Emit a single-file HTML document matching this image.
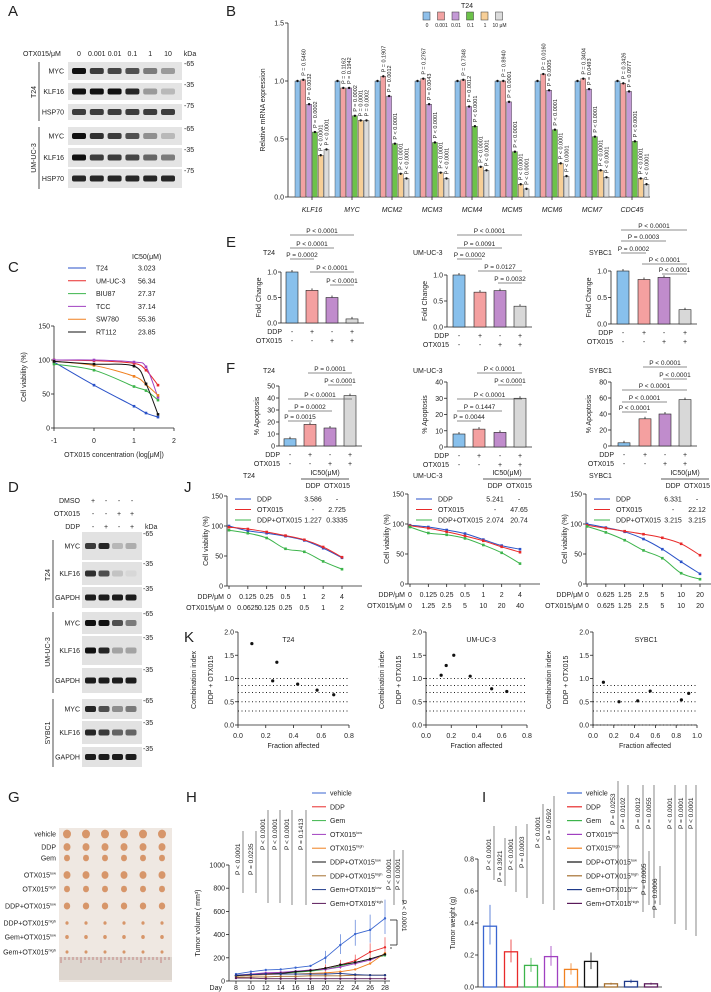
<!DOCTYPE html>
<html><head><meta charset="utf-8"><style>
html,body{margin:0;padding:0;background:#fff;}
svg{display:block;font-family:"Liberation Sans",sans-serif;}
text{fill:#222;}
</style></head><body>
<svg id="fig" width="711" height="992" viewBox="0 0 711 992" xmlns="http://www.w3.org/2000/svg"></svg>
<script>
// ---------- data ----------
const bGenes=["KLF16","MYC","MCM2","MCM3","MCM4","MCM5","MCM6","MCM7","CDC45"];
const bDoses=["0","0.001","0.01","0.1","1","10 μM"];
const bVals=[[1,1.01,0.80,0.56,0.36,0.41],[1,0.94,0.94,0.70,0.66,0.66],[1,1.04,0.87,0.46,0.20,0.16],[1,1.02,0.80,0.47,0.21,0.16],[1,1.01,0.78,0.61,0.26,0.23],[1,1.00,0.82,0.39,0.11,0.07],[1,1.06,0.92,0.58,0.29,0.18],[1,1.02,0.93,0.52,0.23,0.17],[1,0.98,0.91,0.48,0.16,0.11]];
const bP=[["0.5460","0.0032","0.0002","< 0.0001","< 0.0001"],["0.1162","0.1942","0.0002","0.0001","0.0002"],["0.1907","0.0012","< 0.0001","< 0.0001","< 0.0001"],["0.2767","0.0043","< 0.0001","< 0.0001","< 0.0001"],["0.7348","0.0012","< 0.0001","< 0.0001","< 0.0001"],["0.8940","< 0.0001","< 0.0001","< 0.0001","< 0.0001"],["0.0160","0.0005","< 0.0001","< 0.0001","< 0.0001"],["0.3404","0.0493","< 0.0001","< 0.0001","< 0.0001"],["0.3426","0.0977","< 0.0001","< 0.0001","< 0.0001"]];
const cLines=["T24","UM-UC-3","BIU87","TCC","SW780","RT112"];
const cIC50=["3.023","56.34","27.37","37.14","55.36","23.85"];
const cX=[-1,0,1,1.3,1.6];
const cT24=[97,63,32,22,16],cUM=[100,99,95,85,63],cBIU=[94,85,61,55,41],cTCC=[100,100,97,90,45],cSW=[98,92,76,64,48],cRT=[98,94,91,65,20];
const eT24=[1,0.64,0.5,0.08],eUM=[1,0.67,0.7,0.4],eSY=[1,0.84,0.88,0.27];
const fT24=[6,18,15,42],fUM=[8,11,9,30],fSY=[4,34,40,58];
const jT24DDPx=["0","0.125","0.25","0.5","1","2","4"],jT24OTXx=["0","0.0625","0.125","0.25","0.5","1","2"];
const jUMDDPx=["0","0.125","0.25","0.5","1","2","4"],jUMOTXx=["0","1.25","2.5","5","10","20","40"];
const jSYDDPx=["0","0.625","1.25","2.5","5","10","20"],jSYOTXx=["0","0.625","1.25","2.5","5","10","20"];
const jT24DDP=[100,92,88,83,76,63,47],jT24OTX=[98,95,90,84,77,65,48],jT24C=[93,88,80,62,57,41,28];
const jUMDDP=[98,95,90,84,74,64,58],jUMOTX=[97,93,87,80,72,62,53],jUMC=[95,85,82,76,65,52,34];
const jSYDDP=[100,94,87,75,58,37,17],jSYOTX=[98,93,88,83,77,67,48],jSYC=[96,86,73,56,43,18,8];
const kT24fa=[0.10,0.25,0.28,0.43,0.57,0.69],kT24ci=[1.75,0.95,1.35,0.88,0.75,0.65];
const kUMfa=[0.12,0.16,0.22,0.35,0.52,0.64],kUMci=[1.07,1.28,1.5,1.05,0.78,0.72];
const kSYfa=[0.10,0.25,0.43,0.55,0.85,0.92],kSYci=[0.92,0.5,0.52,0.73,0.54,0.68];
const hDays=[8,10,12,14,16,18,20,22,24,26,28];
const hGroups=["vehicle","DDP","Gem","OTX015|low","OTX015|high","DDP+OTX015|low","DDP+OTX015|high","Gem+OTX015|low","Gem+OTX015|high"];
const hVeh=[60,80,95,100,115,130,200,310,405,440,540];
const hDDP=[45,55,65,70,80,90,110,140,175,250,290];
const hGem=[40,50,60,65,75,85,100,130,160,190,220];
const hOL=[50,60,70,75,85,95,100,120,150,180,230];
const hOH=[40,50,55,60,60,65,70,80,100,150,240];
const hDOL=[45,55,60,65,80,90,110,140,160,190,230];
const hDOH=[30,35,35,40,40,45,45,45,50,50,50];
const hGOL=[50,55,60,60,60,60,60,65,55,50,50];
const hGOH=[25,25,20,20,20,20,20,20,20,20,20];
const iWeights=[0.38,0.22,0.135,0.19,0.11,0.16,0.02,0.035,0.02];
const iP=["< 0.0001","= 0.3921","< 0.0001","= 0.0003","< 0.0001","= 0.0592","= 0.0253","= 0.0102","= 0.0012","= 0.0055","< 0.0001","= 0.0001","< 0.0001","= 0.0005","= 0.0006"];
const hP=["< 0.0001","= 0.0235","< 0.0001","< 0.0001","< 0.0001","= 0.1413","< 0.0001","< 0.0001"];

// ---------- helpers ----------
const S=document.getElementById('fig');const NS="http://www.w3.org/2000/svg";
function el(t,a,p){const e=document.createElementNS(NS,t);for(const k in a)e.setAttribute(k,a[k]);(p||S).appendChild(e);return e;}
function tx(x,y,s,o){o=o||{};const e=el('text',{x:x,y:y,'font-size':o.fs||7,'text-anchor':o.a||'start'});if(o.rot)e.setAttribute('transform','rotate('+o.rot+' '+x+' '+y+')');if(o.it)e.setAttribute('font-style','italic');if(o.fw)e.setAttribute('font-weight',o.fw);e.textContent=s;return e;}
function ln(x1,y1,x2,y2,c,w,d){const e=el('line',{x1:x1,y1:y1,x2:x2,y2:y2,stroke:c||'#222','stroke-width':w||0.8});if(d)e.setAttribute('stroke-dasharray',d);return e;}
function lin(d0,d1,r0,r1){return v=>r0+(v-d0)/(d1-d0)*(r1-r0);}
function panelLabel(x,y,s){tx(x,y,s,{fs:15,n:'panel-label-'+s.toLowerCase()});}
function yAxis(x,y,ticks,fmt,yTop,yBot){ln(x,yTop,x,yBot);ticks.forEach(t=>{ln(x-3,y(t),x,y(t));tx(x-4,y(t)+2.5,fmt?fmt(t):String(t),{a:'end',n:'y-tick-label'});});}
function smooth(pts){let d='M'+pts[0][0]+','+pts[0][1];for(let i=0;i<pts.length-1;i++){const p0=pts[i-1]||pts[i],p1=pts[i],p2=pts[i+1],p3=pts[i+2]||p2;d+=' C'+(p1[0]+(p2[0]-p0[0])/6)+','+(p1[1]+(p2[1]-p0[1])/6)+' '+(p2[0]-(p3[0]-p1[0])/6)+','+(p2[1]-(p3[1]-p1[1])/6)+' '+p2[0]+','+p2[1];}return d;}

// ---------- A: blot ----------
panelLabel(8,16,'A');
const aLanes=["0","0.001","0.01","0.1","1","10"];
const aInt=[[1,.8,.75,.7,.5,.35],[1,1,1,.9,.35,.2],[.8,.8,.8,.8,.8,.8],[1,.85,.8,.7,.4,.2],[1,.8,.8,.75,.6,.5],[.9,.9,.9,.9,.9,.9]];
const aRows=[["MYC",62,80,"-65"],["KLF16",83,100,"-35"],["HSP70",104,120,"-75"],["MYC",127,145,"-65"],["KLF16",148,167,"-35"],["HSP70",169,188,"-75"]];
tx(23,56,"OTX015/μM",{n:'dose-header'});
aLanes.forEach((l,i)=>tx(79+i*17.8,56,l,{a:'middle',n:'lane-label'}));
tx(190,56,"kDa",{a:'middle'});
aRows.forEach((r,j)=>{const g=el('rect',{x:68,y:r[1],width:114,height:r[2]-r[1],fill:'#e4e4e4'});
 aInt[j].forEach((v,i)=>{const b=el('rect',{x:72+i*17.8,y:(r[1]+r[2])/2-3,width:14,height:6,rx:2,fill:'#111','fill-opacity':v});});
 tx(64,(r[1]+r[2])/2+2.5,r[0],{a:'end',n:'protein-label'});tx(184,r[1]+4,r[3],{n:'kda-marker'});});
ln(39,62,39,121);ln(39,127,39,189);tx(36,92,"T24",{rot:-90,a:'middle',n:'cell-line-label'});tx(36,158,"UM-UC-3",{rot:-90,a:'middle',n:'cell-line-label'});

// ---------- B ----------
panelLabel(226,16,'B');
const bCols=['#8fc0ea','#f2a2a2','#c49ad6','#6cc24a','#f7cf98','#dcdcdc'];
const bY=lin(0,1.5,197,23);const bX0=294,bStep=40;
yAxis(288,bY,[0,0.5,1.0,1.5],t=>t.toFixed(1),23,197);ln(288,197,650,197);
tx(265,110,"Relative mRNA expression",{rot:-90,a:'middle',n:'y-axis-title'});
tx(467,8,"T24",{a:'middle',n:'legend-title'});
bDoses.forEach((d,i)=>{const r=el('rect',{x:423+i*14.5,y:12,width:7,height:8,fill:bCols[i],stroke:'#333','stroke-width':0.5});tx(427+i*14.5,27,d,{fs:5,a:'middle',n:'legend-entry'});});
bGenes.forEach((g,gi)=>{const c=bX0+gi*bStep+18;tx(c,212,g,{it:1,a:'middle',n:'gene-label'});ln(c,197,c,200);
 bVals[gi].forEach((v,k)=>{const x=c-17+k*5.8;const r=el('rect',{x:x,y:bY(v),width:5,height:197-bY(v),fill:bCols[k],stroke:'#333','stroke-width':0.4});
  const cc=el('circle',{cx:x+2.5,cy:bY(v),r:1.2,fill:'#111'});
  if(k>0)tx(x+4.5,bY(v)-4,"P "+(bP[gi][k-1][0]=='<'?'':'= ')+bP[gi][k-1],{fs:5.5,rot:-90,n:'p-value'});});});

// ---------- C ----------
panelLabel(8,272,'C');
const cCols=['#2a52c8','#e82a2a','#3cb44b','#a040c0','#f08020','#111'];
const cData=[cT24,cUM,cBIU,cTCC,cSW,cRT];
tx(132,259,"IC50(μM)",{n:'legend-header'});
cLines.forEach((n,i)=>{const y=268+i*12.8;ln(68,y,86,y,cCols[i],1);tx(96,y+2.5,n,{n:'legend-entry'});tx(138,y+2.5,cIC50[i],{n:'ic50-value'});});
const cXs=lin(-1,2,54,174),cYs=lin(0,150,428,326);
yAxis(54,cYs,[0,50,100,150],null,326,428);ln(54,428,174,428);
[-1,0,1,2].forEach(t=>{ln(cXs(t),428,cXs(t),431);tx(cXs(t),443,String(t),{a:'middle',n:'x-tick-label'});});
tx(114,457,"OTX015 concentration (log[μM])",{a:'middle',n:'x-axis-title'});
tx(26,377,"Cell viability (%)",{rot:-90,a:'middle',n:'y-axis-title'});
cData.forEach((d,i)=>{const pts=d.map((v,j)=>[cXs(cX[j]),cYs(v)]);const p=el('path',{d:smooth(pts),fill:'none',stroke:cCols[i],'stroke-width':1});
 pts.forEach(q=>{const c=el('rect',{x:q[0]-1.3,y:q[1]-1.3,width:2.6,height:2.6,fill:cCols[i]});});});

// ---------- E / F bar panels ----------
const efCols=['#88c0ec','#f4a0a0','#c08ccc','#d8d8d8'];
function barPanel(o){
 const y=lin(0,o.max,o.y0,o.yTop);yAxis(o.ax,y,o.ticks,o.fmt,o.yTop,o.y0);ln(o.ax,o.y0,o.bx[3]+12,o.y0);
 tx(o.title[0],o.title[1],o.tname,{n:'subplot-title'});
 tx(o.ax-20,(o.y0+o.yTop)/2,o.ylab,{rot:-90,a:'middle',n:'y-axis-title'});
 o.vals.forEach((v,i)=>{const r=el('rect',{x:o.bx[i]-6,y:y(v),width:12,height:o.y0-y(v),fill:efCols[i],stroke:'#222','stroke-width':0.6});ln(o.bx[i],y(v)-2,o.bx[i],y(v));
  ['-','+','-','+'].forEach(()=>{});tx(o.bx[i],o.y0+11,i%2?'+':'-',{a:'middle',n:'ddp-sign'});tx(o.bx[i],o.y0+20,i>1?'+':'-',{a:'middle',n:'otx-sign'});});
 tx(o.bx[0]-10,o.y0+11,"DDP",{a:'end',n:'row-label'});tx(o.bx[0]-10,o.y0+20,"OTX015",{a:'end',n:'row-label'});
 o.sig.forEach(s=>{ln(o.bx[s[0]]-2,s[2],o.bx[s[1]]+2,s[2],'#666',0.8);tx((o.bx[s[0]]+o.bx[s[1]])/2,s[2]-2,s[3],{a:'middle',fs:6.5,n:'p-value'});});}
panelLabel(226,247,'E');panelLabel(226,373,'F');
const f1=t=>t.toFixed(1);
barPanel({ax:281,y0:323,yTop:272,max:1,ticks:[0,0.5,1],fmt:f1,bx:[292,312,332,352],vals:eT24,title:[263,255],tname:'T24',ylab:'Fold Change',sig:[[0,3,235,'P < 0.0001'],[0,2,248,'P < 0.0001'],[0,1,259,'P = 0.0002'],[1,3,272,'P < 0.0001'],[2,3,285,'P < 0.0001']]});
barPanel({ax:447,y0:327,yTop:275,max:1,ticks:[0,0.5,1],fmt:f1,bx:[459,480,500,520],vals:eUM,title:[413,255],tname:'UM-UC-3',ylab:'Fold Change',sig:[[0,3,235,'P < 0.0001'],[0,2,248,'P = 0.0091'],[0,1,259,'P = 0.0002'],[1,3,271,'P = 0.0127'],[2,3,283,'P = 0.0032']]});
barPanel({ax:611,y0:324,yTop:271,max:1,ticks:[0,0.5,1],fmt:f1,bx:[623,644,664,685],vals:eSY,title:[589,255],tname:'SYBC1',ylab:'Fold Change',sig:[[0,3,230,'P < 0.0001'],[0,2,241,'P = 0.0003'],[0,1,253,'P = 0.0002'],[1,3,264,'P < 0.0001'],[2,3,274,'P < 0.0001']]});
barPanel({ax:279,y0:446,yTop:386,max:50,ticks:[0,10,20,30,40,50],bx:[290,310,330,350],vals:fT24,title:[263,373],tname:'T24',ylab:'% Apoptosis',sig:[[1,3,373,'P = 0.0001'],[2,3,385,'P < 0.0001'],[0,3,399,'P < 0.0001'],[0,2,411,'P = 0.0002'],[0,1,421,'P = 0.0015']]});
barPanel({ax:447,y0:447,yTop:382,max:40,ticks:[0,10,20,30,40],bx:[459,479,500,520],vals:fUM,title:[413,373],tname:'UM-UC-3',ylab:'% Apoptosis',sig:[[1,3,373,'P < 0.0001'],[2,3,385,'P < 0.0001'],[0,3,399,'P < 0.0001'],[0,2,411,'P = 0.1447'],[0,1,421,'P = 0.0044']]});
barPanel({ax:611,y0:446,yTop:382,max:80,ticks:[0,20,40,60,80],bx:[624,645,665,685],vals:fSY,title:[589,373],tname:'SYBC1',ylab:'% Apoptosis',sig:[[1,3,367,'P < 0.0001'],[2,3,379,'P < 0.0001'],[0,3,390,'P < 0.0001'],[0,2,402,'P < 0.0001'],[0,1,412,'P < 0.0001']]});

// ---------- D blot ----------
panelLabel(8,492,'D');
[["DMSO",501,['+','-','-','-']],["OTX015",514,['-','-','+','+']],["DDP",527,['-','+','-','+']]].forEach(r=>{tx(80,r[1]+2,r[0],{a:'end',n:'treatment-label'});r[2].forEach((s,i)=>tx(93+i*13,r[1]+2,s,{a:'middle',n:'treatment-sign'}));});
tx(145,529,"kDa");
const dRows=[["MYC",532,560,"-65",[.8,.9,.2,.25]],["KLF16",562,585,"-35",[.85,.7,.15,.05]],["GAPDH",587,608,"-35",[.95,.95,.95,.95]],["MYC",612,634,"-65",[1,1,.7,.5]],["KLF16",636,665,"-35",[1,.9,.3,.3]],["GAPDH",668,693,"-35",[.95,.95,.95,.95]],["MYC",699,719,"-65",[.9,.7,.4,.5]],["KLF16",721,744,"-35",[.9,.8,.6,.6]],["GAPDH",747,767,"-35",[.95,.95,.95,.95]]];
dRows.forEach(r=>{const g=el('rect',{x:82,y:r[1],width:60,height:r[2]-r[1],fill:'#e2e2e2'});
 r[4].forEach((v,i)=>{const b=el('rect',{x:85+i*13.5,y:(r[1]+r[2])/2-3,width:11,height:6,rx:2,fill:'#111','fill-opacity':v});});
 tx(80,(r[1]+r[2])/2+2.5,r[0],{a:'end',n:'protein-label'});tx(143,r[1]+4,r[3],{n:'kda-marker'});});
ln(53,540,53,608);ln(53,612,53,693);ln(53,699,53,767);
tx(50,575,"T24",{rot:-90,a:'middle',n:'cell-line-label'});tx(50,652,"UM-UC-3",{rot:-90,a:'middle',n:'cell-line-label'});tx(50,733,"SYBC1",{rot:-90,a:'middle',n:'cell-line-label'});

// ---------- J ----------
panelLabel(184,492,'J');
const jCols=['#2a52c8','#e82a2a','#3cb44b'];
function jPanel(o){const y=lin(0,150,o.y0,o.y0-90);const xs=i=>o.xs[0]+i*(o.xs[1]-o.xs[0])/6;
 yAxis(o.ax,y,[0,50,100,150],null,o.y0-90,o.y0);ln(o.ax,o.y0,o.xs[1]+20,o.y0);
 tx(o.ax-19,o.y0-45,"Cell viability (%)",{rot:-90,a:'middle',n:'y-axis-title'});
 tx(o.tx,478,o.name,{n:'subplot-title'});tx(o.ic+12,475,"IC50(μM)",{a:'middle',n:'ic50-header'});ln(o.ic-12,479,o.ic+36,479);
 tx(o.ic,488,"DDP",{a:'middle'});tx(o.ic+24,488,"OTX015",{a:'middle'});
 ["DDP","OTX015","DDP+OTX015"].forEach((n,i)=>{const yy=499+i*10.5;ln(o.ax+8,yy,o.ax+24,yy,jCols[i],1);tx(o.ax+30,yy+2.5,n,{n:'legend-entry'});tx(o.ic,yy+2.5,o.icv[i][0],{a:'middle',n:'ic50-value'});tx(o.ic+24,yy+2.5,o.icv[i][1],{a:'middle',n:'ic50-value'});});
 [o.d,o.o,o.c].forEach((s,k)=>{const pts=s.map((v,i)=>[xs(i),y(v)]);const p=el('path',{d:smooth(pts),fill:'none',stroke:jCols[k],'stroke-width':1});pts.forEach(q=>{const c=el('rect',{x:q[0]-1.3,y:q[1]-1.3,width:2.6,height:2.6,fill:jCols[k]});});});
 o.dl.forEach((l,i)=>{ln(xs(i),o.y0,xs(i),o.y0+3);tx(xs(i),o.y0+13,l,{a:'middle',n:'ddp-dose'});tx(xs(i),o.y0+24,o.ol[i],{a:'middle',n:'otx-dose'});});
 tx(o.ax-3,o.y0+13,"DDP/μM",{a:'end'});tx(o.ax-3,o.y0+24,"OTX015/μM",{a:'end'});}
jPanel({ax:227,y0:586,xs:[229,342],name:'T24',tx:243,ic:313,icv:[["3.586","-"],["-","2.725"],["1.227","0.3335"]],d:jT24DDP,o:jT24OTX,c:jT24C,dl:jT24DDPx,ol:jT24OTXx});
jPanel({ax:408,y0:584,xs:[410,520],name:'UM-UC-3',tx:413,ic:495,icv:[["5.241","-"],["-","47.65"],["2.074","20.74"]],d:jUMDDP,o:jUMOTX,c:jUMC,dl:jUMDDPx,ol:jUMOTXx});
jPanel({ax:586,y0:584,xs:[587,700],name:'SYBC1',tx:589,ic:673,icv:[["6.331","-"],["-","22.12"],["3.215","3.215"]],d:jSYDDP,o:jSYOTX,c:jSYC,dl:jSYDDPx,ol:jSYOTXx});

// ---------- K ----------
panelLabel(184,642,'K');
function kPanel(o){const y=lin(0,2,725,632),x=lin(0,o.xmax,o.ax,o.xe);
 yAxis(o.ax,y,[0,0.5,1,1.5,2],t=>t.toFixed(1),632,725);ln(o.ax,725,o.xe,725);
 o.lv.forEach(v=>ln(o.ax,y(v),o.xe,y(v),'#222',1,'1,2.5'));
 o.xt.forEach(t=>{ln(x(t),725,x(t),728);tx(x(t),738,t.toFixed(1),{a:'middle',n:'x-tick-label'});});
 tx((o.ax+o.xe)/2,748,"Fraction affected",{a:'middle',n:'x-axis-title'});
 tx(o.ax-42,680,"Combination index",{rot:-90,a:'middle',n:'y-axis-title'});tx(o.ax-25,680,"DDP + OTX015",{rot:-90,a:'middle',n:'y-axis-title'});
 tx(o.ax+(o.xe-o.ax)*0.4,642,o.name,{n:'subplot-title'});
 o.fa.forEach((f,i)=>{const c=el('circle',{cx:x(f),cy:y(o.ci[i]),r:1.6,fill:'#111'});});}
kPanel({ax:238,xe:349,xmax:0.8,xt:[0,0.2,0.4,0.6,0.8],lv:[1,0.85,0.7,0.5,0.3],name:'T24',fa:kT24fa,ci:kT24ci});
kPanel({ax:426,xe:527,xmax:0.8,xt:[0,0.2,0.4,0.6,0.8],lv:[1,0.85,0.7,0.5,0.3],name:'UM-UC-3',fa:kUMfa,ci:kUMci});
kPanel({ax:593,xe:697,xmax:1,xt:[0,0.2,0.4,0.6,0.8,1],lv:[0.85,0.7,0.5,0.3,0],name:'SYBC1',fa:kSYfa,ci:kSYci});

// ---------- G ----------
panelLabel(8,802,'G');
const gBg=el('rect',{x:59,y:828,width:113,height:154,fill:'#efe8e2'});
const gRy=[834,847,858,875,889,906,923,937,952];const gSz=[4,3.5,3,3.5,3,3.2,1.6,1.8,1.5];
hGroups.forEach((g,i)=>{const p=g.split('|');const t=tx(56,gRy[i]+2.5,p[0],{a:'end',n:'group-label'});if(p[1]){const ts=document.createElementNS(NS,'tspan');ts.setAttribute('font-size',4);ts.setAttribute('dy',-3);ts.textContent=p[1];t.appendChild(ts);}
 for(let k=0;k<6;k++){const c=el('ellipse',{cx:67+k*19,cy:gRy[i],rx:gSz[i],ry:gSz[i]*1.1,fill:'#d7966a'});}});
const ru=el('rect',{x:59,y:957,width:113,height:23,fill:'#ddd6cf'});
for(let k=0;k<28;k++)ln(61+k*4,957,61+k*4,k%5?960:963,'#a33',0.5);

// ---------- H ----------
panelLabel(186,802,'H');
const hCols=['#3a66d0','#e82a2a','#3cb44b','#a040c0','#f08020','#111','#a57030','#1f3a8a','#5a1a5a'];
const hSer=[hVeh,hDDP,hGem,hOL,hOH,hDOL,hDOH,hGOL,hGOH];
const hX=lin(8,28,236,385),hY=lin(0,1000,981,865);
yAxis(229,hY,[0,200,400,600,800,1000],null,865,981);ln(229,981,390,981);
hDays.forEach(d=>{ln(hX(d),981,hX(d),984);tx(hX(d),990,String(d),{a:'middle',n:'x-tick-label'});});tx(222,990,"Day",{a:'end'});
tx(200,923,"Tumor volume ( mm³)",{rot:-90,a:'middle',n:'y-axis-title'});
hSer.forEach((s,k)=>{const pts=s.map((v,i)=>hX(hDays[i])+','+hY(v)).join(' ');const p=el('polyline',{points:pts,fill:'none',stroke:hCols[k],'stroke-width':0.9});
 s.forEach((v,i)=>{const c=el('circle',{cx:hX(hDays[i]),cy:hY(v),r:1.2,fill:hCols[k]});if(k<2&&i>5)ln(hX(hDays[i]),hY(v*1.3),hX(hDays[i]),hY(v*0.75),hCols[k],0.6);});
 const yy=793+k*13.8;ln(312,yy,326,yy,hCols[k],1);const t=tx(330,yy+2.5,hGroups[k].split('|')[0],{n:'legend-entry'});if(hGroups[k].includes('|')){const ts=document.createElementNS(NS,'tspan');ts.setAttribute('font-size',4);ts.setAttribute('dy',-3);ts.textContent=hGroups[k].split('|')[1];t.appendChild(ts);}});
const hSx=[240,253,265,277,289,303,391,400];
hP.forEach((p,i)=>{const top=i<2?826:i<6?805:845;tx(hSx[i],i<6?(i<2?875:850):890,"P "+p,{rot:-90,fs:6.5,n:'p-value'});ln(hSx[i]+3,top+5,hSx[i]+3,i<2?893:i<4?903:905,'#555',0.7);});
ln(390,920,397,920);ln(397,920,397,945);ln(390,945,397,945);ln(390,948,392,948);
tx(402,900,"P < 0.0001",{rot:90,fs:6.5,n:'p-value'});

// ---------- I ----------
panelLabel(482,802,'I');
const iX=[490,511,531,551,571,591,611,631,651];const iY=lin(0,0.8,987,859);
yAxis(478,iY,[0,0.2,0.4,0.6,0.8],t=>t.toFixed(1),859,987);ln(478,987,662,987);
tx(455,923,"Tumor weight (g)",{rot:-90,a:'middle',n:'y-axis-title'});
iWeights.forEach((v,i)=>{const r=el('rect',{x:iX[i]-6.5,y:iY(v),width:13,height:987-iY(v),fill:'#fff',stroke:hCols[i],'stroke-width':1.3});
 ln(iX[i],iY(v*1.35),iX[i],iY(v*0.7),hCols[i],0.8);
 const yy=793+i*13.8;ln(567,yy,582,yy,hCols[i],1.2);const t=tx(586,yy+2.5,hGroups[i].split('|')[0],{n:'legend-entry'});if(hGroups[i].includes('|')){const ts=document.createElementNS(NS,'tspan');ts.setAttribute('font-size',4);ts.setAttribute('dy',-3);ts.textContent=hGroups[i].split('|')[1];t.appendChild(ts);}});
const iPx=[491,502,513,524,540,551,615,625,640,651,672,683,693,646,657];
const iPy=[870,882,870,868,848,840,825,829,829,829,829,829,829,895,910];
iP.forEach((p,i)=>{tx(iPx[i],iPy[i],"P "+p,{rot:-90,fs:6.5,n:'p-value'});ln(iPx[i]+3,iPy[i]-44,iPx[i]+3,i<6?880+i*6:(i<13?900+(i-6)*6:905),'#555',0.7);});
</script>
</body></html>
